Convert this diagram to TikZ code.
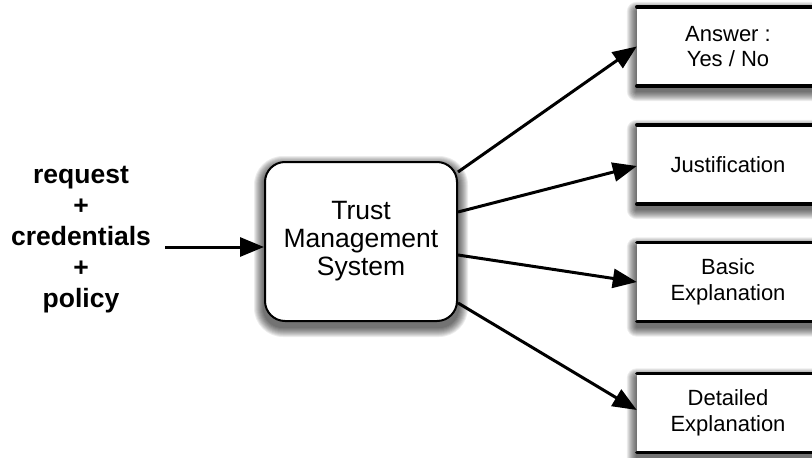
\documentclass[tikz,border=0pt]{standalone}
\usepackage{fontspec}
\setmainfont{Liberation Sans}
\usetikzlibrary{arrows.meta,backgrounds}
\begin{document}
\begin{tikzpicture}[x=1pt,y=-1pt,
  arr/.style={line width=3pt,-{Triangle[length=24pt,width=19pt]}},
  tmsbox/.style={draw,line width=2pt,rounded corners=20pt,fill=white,minimum width=192pt,minimum height=159pt,align=center,inner sep=0pt,font=\fontsize{26.5}{28}\selectfont},
  outbox/.style={fill=white,minimum width=182pt,minimum height=79pt,align=center,inner sep=0pt,font=\fontsize{22}{25.5}\selectfont},
  rule/.style={line width=3.5pt,line cap=round},
  intext/.style={align=center,inner sep=0pt,font=\bfseries\fontsize{26.5}{31}\selectfont},
  shadowlayer/.style={fill=black,fill opacity=0.075}
]
\useasboundingbox (0,0) rectangle (812,458);
\clip (0,0) rectangle (812,458);

\node[intext] (inp) at (81,240) {request\\+\\credentials\\+\\policy};
\node[tmsbox] (tms) at (361,241.5) {Trust\\Management\\System};

\node[outbox] (ans) at (728,46.5) {Answer :\\Yes / No};
\node[outbox] (jus) at (728,164.5) {Justification};
\node[outbox] (bas) at (728,282) {Basic\\Explanation};
\node[outbox] (det) at (728,413) {Detailed\\Explanation};

\begin{scope}[on background layer]
\fill[white] (0,0) rectangle (812,458);
\foreach \k in {1,...,10}{
  \fill[shadowlayer,rounded corners=19pt+\k pt]
    ([shift={(-\k pt,-5pt-\k pt)}]tms.south west) rectangle ([shift={(\k pt,\k pt-5pt)}]tms.north east);
  \foreach \b in {ans,jus,bas,det}{
    \fill[shadowlayer,rounded corners=\k pt]
      ([shift={(-\k pt,-5pt-\k pt)}]\b.south west) rectangle ([shift={(\k pt,\k pt-5pt)}]\b.north east);
  }
}
\end{scope}

\foreach \b in {ans,jus,bas,det}{
  \draw[rule] (\b.north west) -- (\b.north east);
  \draw[rule] (\b.south west) -- (\b.south east);
}

\coordinate (src) at (165,247);
\draw[arr] (src) -- (tms.west |- src);

\draw[arr] ([yshift=-11pt]tms.north east) -- (ans.west);
\draw[arr] ([yshift=-51pt]tms.north east) -- ([yshift=-1.5pt]jus.west);
\draw[arr] ([yshift=-94pt]tms.north east) -- (bas.west);
\draw[arr] ([yshift=19pt]tms.south east) -- ([yshift=3pt]det.west);
\end{tikzpicture}
\end{document}
